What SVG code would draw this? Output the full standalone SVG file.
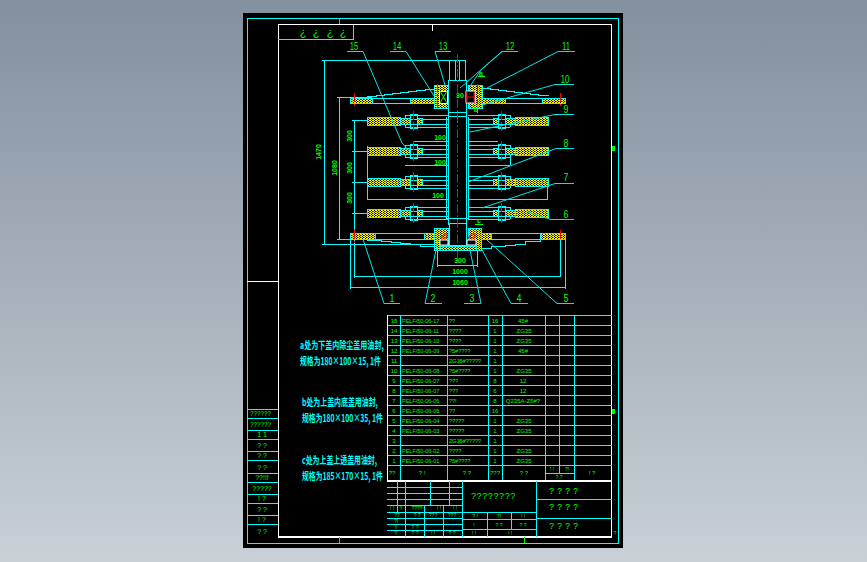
<svg xmlns="http://www.w3.org/2000/svg" width="867" height="562" viewBox="0 0 867 562">
<style>
.c{fill:none;stroke:#00ffff;stroke-width:1;shape-rendering:crispEdges}
.l{fill:none;stroke:#00e8e8;stroke-width:1}
.w{fill:none;stroke:#ffffff;stroke-width:1.2;shape-rendering:crispEdges}
.g{fill:none;stroke:#00ff00;stroke-width:1}
.r{fill:none;stroke:#ff0000;stroke-width:1;stroke-dasharray:9 2 2 2}
.h{fill:url(#hatch);stroke:#00ffff;stroke-width:1;shape-rendering:crispEdges}
text{font-family:"Liberation Sans",sans-serif;fill:#00ff00}
.n{font-size:11px;text-anchor:middle}
.t{font-size:7px}
.m{font-size:7px;text-anchor:middle}
.s{font-size:5px;text-anchor:middle}
.q{font-size:6px;text-anchor:middle}
.d{font-size:7px;text-anchor:middle;font-weight:bold}
.a{font-family:"Noto Sans CJK SC","Liberation Sans",sans-serif;font-size:10.5px;font-weight:bold;fill:#00ffff}
</style>
<defs>
<linearGradient id="bg" x1="0" y1="0" x2="0" y2="1"><stop offset="0" stop-color="#82909f"/><stop offset="1" stop-color="#c9d0d6"/></linearGradient>
<pattern id="hatch" width="3" height="2" patternUnits="userSpaceOnUse"><rect width="3" height="2" fill="#000"/><rect width="2" height="1" fill="#ffff00"/><rect x="1.500" y="1" width="1.500" height="1" fill="#ffff00"/></pattern>
<g id="arm">
<path class="c" d="M405 -6H448M405 -2H448M405 3H448M405 6H448M405 -6V6"/>
<rect class="c" x="410" y="-7" width="7" height="14" fill="#000"/>
<path class="r" d="M413.500 -10V10"/>
<path class="c" d="M468 -6H510M468 -2H510M468 3H510M468 6H510M510 -6V6"/>
<rect class="c" x="498" y="-7" width="7" height="14" fill="#000"/>
<path class="r" d="M501.500 -10V10"/>
</g>
</defs>
<rect width="867" height="562" fill="url(#bg)"/>
<rect x="243" y="13" width="380" height="535" fill="#000"/>
<g id="frame">
<rect class="c" x="247.500" y="18.500" width="371" height="525"/>
<rect class="w" x="278.500" y="24.500" width="333" height="512.500"/>
<path class="c" d="M278 39.500H353.500V24.500"/>
<path class="w" d="M247 281.500H278"/>
<path class="c" d="M247 409.500H278M247 418.500H278M247 430.500H278M247 439.500H278M247 451.500H278M247 460.500H278M247 473.500H278M247 482.500H278M247 494.500H278M247 503.500H278M247 515.500H278M247 524.500H278"/>
<path class="g" d="M339.500 18V24M339.500 537V543M524.500 537V543"/>
<path class="w" d="M432.500 25V31"/>
<path d="M612 146h3v5h-3zM612 409h3v5h-3z" fill="#00ff00"/>
<g font-size="11"><text x="303" y="36" text-anchor="middle">¿</text><text x="316" y="36" text-anchor="middle">¿</text><text x="330" y="36" text-anchor="middle">¿</text><text x="343" y="36" text-anchor="middle">¿</text></g>
<text x="250" y="416" class="t" transform="translate(250,416) scale(.9,1) translate(-250,-416)">??????</text>
<text x="250" y="427" class="t" transform="translate(250,427) scale(.9,1) translate(-250,-427)">??????</text>
<text x="262" y="437" class="m">1 1</text><text x="262" y="448" class="m">? ?</text><text x="262" y="458" class="m">? ?</text><text x="262" y="470" class="m">? ?</text>
<text x="262" y="480" class="m">??!!!</text>
<text x="262" y="491" class="m">?????</text>
<text x="262" y="501" class="m">! ?</text><text x="262" y="512" class="m">? ?</text><text x="262" y="522" class="m">! ?</text><text x="262" y="534" class="m">? ?</text>
</g>
<g id="notes">
<text class="a" transform="translate(300,349) scale(.67,1)">a处为下盖内除尘盖用油封,</text>
<text class="a" transform="translate(300,365) scale(.65,1)">规格为180×100×15, 1件</text>
<text class="a" transform="translate(302,406) scale(.66,1)">b处为上盖内底盖用油封,</text>
<text class="a" transform="translate(302,422) scale(.65,1)">规格为180×100×35, 1件</text>
<text class="a" transform="translate(302,464) scale(.66,1)">c处为上盖上透盖用油封,</text>
<text class="a" transform="translate(302,480) scale(.65,1)">规格为185×170×15, 1件</text>
</g>
<g id="drawing">
<path class="c" d="M322 60.500H449M324.500 60V245M322 244.500H440M337 97.500H372M339.500 97V240M337 239.500H372M352 120.500H367M352 151.500H367M352 182.500H367M352 213.500H367M354.500 120V278"/>
<path class="c" d="M367.500 117V125M367.500 146V199M367 199.500H448M413 141.500H449M405 165.500H449M468 141.500H498M468 165.500H510M510.500 155V165M468 199.500H548M547.500 178V199"/>
<path class="c" d="M449.500 60V80M465.500 60V80M455.500 60V80M459.500 60V80M449 60.500H465M448 80.500H466M448.500 80V117M466.500 80V117M448 112.500H467M448 116.500H467"/>
<path class="c" d="M446.500 117V218M448.500 117V225M466.500 117V225M468.500 117V218M446 218.500H469M448 223.500H467M449.500 223V245M466.500 223V245"/>
<path class="r" d="M457.500 54V262"/>
<use href="#arm" y="121"/><use href="#arm" y="151"/><use href="#arm" y="182"/><use href="#arm" y="213"/>
<path class="h" d="M367.500 117.500h33v8h-33zM400.500 118.500h10v6h-10zM417.500 118.500h5v6h-5zM493.500 118.500h5v6h-5zM505.500 118.500h10v6h-10zM515.500 117.500h33v8h-33z"/>
<path class="h" d="M367.500 147.500h33v8h-33zM400.500 148.500h10v6h-10zM417.500 148.500h5v6h-5zM493.500 148.500h5v6h-5zM505.500 148.500h10v6h-10zM515.500 147.500h33v8h-33z"/>
<path class="h" d="M367.500 178.500h33v8h-33zM400.500 179.500h10v6h-10zM417.500 179.500h5v6h-5zM493.500 179.500h5v6h-5zM505.500 179.500h10v6h-10zM515.500 178.500h33v8h-33z"/>
<path class="h" d="M367.500 209.500h33v8h-33zM400.500 210.500h10v6h-10zM417.500 210.500h5v6h-5zM493.500 210.500h5v6h-5zM505.500 210.500h10v6h-10zM515.500 209.500h33v8h-33z"/>
<path class="h" d="M350 98h22v5.500h-22z"/>
<path class="c" d="M372 98h38v5.500h-38z"/>
<path class="h" d="M410 98h28v5.500h-28z"/>
<path class="h" d="M434 85.500h14v23h-14z"/>
<path class="h" d="M468 85.500h14v23h-14z"/>
<path class="h" d="M481 98h24v5.500h-24z"/>
<path class="c" d="M505 98h37v5.500h-37z"/>
<path class="h" d="M542 98h23v5.500h-23z"/>
<path class="c" d="M367 97V96H376V95H384V94H392V93H400V92H408V91H416V90H425V89H434"/>
<path class="c" d="M482 88H490V89H498V90H506V91H514V92H522V93H530V94H538V95H548V96"/>
<rect x="439.500" y="91.500" width="8" height="12" fill="#000" stroke="#ffffff"/>
<path class="g" d="M440 103L443.500 97L440 91M447 103L443.500 97L447 91"/>
<rect x="466" y="91" width="9" height="12" fill="#000" stroke="#ffffff"/>
<path d="M467 91v12M474 91v12M466 97h9" stroke="#ff0000" fill="none"/>
<path class="r" d="M354.500 93V106M560.500 93V106M477.500 84V108M437.500 84V108"/>
<path class="h" d="M350 233.500h25v6h-25z"/>
<path class="c" d="M375 233.500h49v6h-49z"/>
<path class="h" d="M424 233.500h14v6h-14z"/>
<path class="h" d="M434 228.500h14v21.500h-14z"/>
<path class="h" d="M468 228.500h13v21.500h-13z"/>
<path class="h" d="M481 233.500h10v6h-10z"/>
<path class="c" d="M491 233.500h49v6h-49z"/>
<path class="h" d="M540 233.500h25v6h-25z"/>
<path class="c" d="M367 240H381V241H391V242H400V243H410V244H420V246H434"/>
<path class="c" d="M482 248H491V246H505V245H515V244H525V241H540V240"/>
<rect x="440" y="240" width="8" height="5" fill="#000" stroke="#ffffff"/>
<rect x="467" y="240" width="9" height="5" fill="#000" stroke="#ffffff"/>
<path d="M441 238h6v-4h-3zM468 238h7v-4h-4z" fill="none" stroke="#ff0000"/>
<path class="c" d="M440 245.500H476M440 250.500H476"/>
<path class="h" d="M440 246h36v4h-36z"/>
<path class="r" d="M354.500 230V244M560.500 230V244"/>
<path class="c" d="M437.500 248V267M477.500 250V267M437 265.500H478M354 276.500H560M350 287.500H565M350.500 235V289M565.500 235V289M560.500 240V277"/>
</g>
<g id="labels">
<text class="n" transform="translate(354,50) scale(.7,1)">15</text><text class="n" transform="translate(397,50) scale(.7,1)">14</text><text class="n" transform="translate(443,50) scale(.7,1)">13</text><text class="n" transform="translate(510,50) scale(.7,1)">12</text><text class="n" transform="translate(566,50) scale(.7,1)">11</text>
<text class="n" transform="translate(565,83) scale(.7,1)">10</text><text class="n" transform="translate(566,113) scale(.8,1)">9</text><text class="n" transform="translate(566,147) scale(.8,1)">8</text><text class="n" transform="translate(566,181) scale(.8,1)">7</text><text class="n" transform="translate(566,218) scale(.8,1)">6</text><text class="n" transform="translate(566,302) scale(.8,1)">5</text>
<text class="n" transform="translate(392,302) scale(.8,1)">1</text><text class="n" transform="translate(433,302) scale(.8,1)">2</text><text class="n" transform="translate(472,302) scale(.8,1)">3</text><text class="n" transform="translate(519,302) scale(.8,1)">4</text>
<text class="d" x="481" y="76">a</text><text class="d" x="476" y="112">b</text><text class="d" x="479" y="223">c</text>
<text class="d" x="460" y="98">30</text>
<text class="d" x="440" y="140">100</text><text class="d" x="440" y="165">100</text><text class="d" x="438" y="198">100</text>
<text class="d" x="460" y="263">300</text><text class="d" x="460" y="274">1000</text><text class="d" x="460" y="285">1060</text>
<text class="d" transform="translate(352,136) rotate(-90)">300</text>
<text class="d" transform="translate(352,168) rotate(-90)">300</text>
<text class="d" transform="translate(352,198) rotate(-90)">300</text>
<text class="d" transform="translate(337,168) rotate(-90)">1080</text>
<text class="d" transform="translate(321,152) rotate(-90)">1470</text>
</g>
<g id="connectors">
<path class="l" d="M347 51.500H363L402 143L410 152M390 51.500H406L434 96M435 51.500H451M435 51.500L445 85"/>
<path class="l" d="M518 51.500H502L460 88M502 51.500L481 70L470 86M575 51.500H558L487 88"/>
<path class="l" d="M574 84.500H555L482 105M574 114.500H555L470 132M574 148.500H556L468 182M574 183.500H555L482 208M574 219.500H551L528 212"/>
<path class="l" d="M400 303.500H384L363 239M442 303.500H425L438 240M464 303.500H481L470 250M528 303.500H511L481 248M574 303.500H557L487 240"/>
<path class="g" d="M478 76.500H485M477.500 104V113M475 224.500H483"/>
</g>
<g id="table">
<path class="c" d="M387 315.500H612M387 325.500H612M387 335.500H612M387 345.500H612M387 355.500H612M387 365.500H612M387 375.500H612M387 385.500H612M387 395.500H612M387 405.500H612M387 415.500H612M387 425.500H612M387 435.500H612M387 445.500H612M387 455.500H612M387 465.500H612"/>
<path class="c" d="M400.500 315V481M447.500 315V481M488.500 315V481M502.500 315V481M545.500 315V481M559.500 315V473M574.500 315V481M545 473.500H574"/>
<path class="w" d="M387.500 315V481M387 481H612"/>
<g class="rows" font-size="5.500">
<text class="q" x="394" y="323">15</text><text x="402" y="323">PELF/50-06-17</text><text x="449" y="323">??</text><text class="q" x="495" y="323">16</text><text class="q" x="523" y="323">45#</text>
<text class="q" x="394" y="333">14</text><text x="402" y="333">PELF/50-06-11</text><text x="449" y="333">????</text><text class="q" x="495" y="333">1</text><text class="q" x="524" y="333">ZG35</text>
<text class="q" x="394" y="343">13</text><text x="402" y="343">PELF/50-06-10</text><text x="449" y="343">????</text><text class="q" x="495" y="343">1</text><text class="q" x="524" y="343">ZG35</text>
<text class="q" x="394" y="353">12</text><text x="402" y="353">PELF/50-06-09</text><text x="449" y="353">?5#????</text><text class="q" x="495" y="353">1</text><text class="q" x="523" y="353">45#</text>
<text class="q" x="394" y="363">11</text><text x="449" y="363">ZG35#?????</text><text class="q" x="495" y="363">1</text>
<text class="q" x="394" y="373">10</text><text x="402" y="373">PELF/50-06-08</text><text x="449" y="373">?5#????</text><text class="q" x="495" y="373">1</text><text class="q" x="524" y="373">ZG35</text>
<text class="q" x="394" y="383">9</text><text x="402" y="383">PELF/50-06-07</text><text x="449" y="383">???</text><text class="q" x="495" y="383">8</text><text class="q" x="523" y="383">12</text>
<text class="q" x="394" y="393">8</text><text x="402" y="393">PELF/50-06-07</text><text x="449" y="393">???</text><text class="q" x="495" y="393">6</text><text class="q" x="523" y="393">12</text>
<text class="q" x="394" y="403">7</text><text x="402" y="403">PELF/50-06-06</text><text x="449" y="403">??!</text><text class="q" x="495" y="403">8</text><text class="q" x="523" y="403" font-size="5">Q235A-Z5#?</text>
<text class="q" x="394" y="413">6</text><text x="402" y="413">PELF/50-06-05</text><text x="449" y="413">??</text><text class="q" x="495" y="413">16</text>
<text class="q" x="394" y="423">5</text><text x="402" y="423">PELF/50-06-04</text><text x="449" y="423">?????</text><text class="q" x="495" y="423">1</text><text class="q" x="524" y="423">ZG35</text>
<text class="q" x="394" y="433">4</text><text x="402" y="433">PELF/50-06-03</text><text x="449" y="433">?????</text><text class="q" x="495" y="433">1</text><text class="q" x="524" y="433">ZG35</text>
<text class="q" x="394" y="443">3</text><text x="449" y="443">ZG35#?????</text><text class="q" x="495" y="443">1</text>
<text class="q" x="394" y="453">2</text><text x="402" y="453">PELF/50-06-02</text><text x="449" y="453">????</text><text class="q" x="495" y="453">1</text><text class="q" x="524" y="453">ZG35</text>
<text class="q" x="394" y="463">1</text><text x="402" y="463">PELF/50-06-01</text><text x="449" y="463">?5#????</text><text class="q" x="495" y="463">1</text><text class="q" x="524" y="463">ZG35</text>
<text class="q" x="392" y="475">??</text><text class="q" x="422" y="475">? !</text><text class="q" x="467" y="475">? ?</text><text class="q" x="495" y="475">???</text><text class="q" x="524" y="475">? ?</text><text class="s" x="552" y="471">! !</text><text class="s" x="567" y="471">?!</text><text class="s" x="559" y="479">? ?</text><text class="q" x="592" y="475">! ?</text>
</g>
</g>
<g id="titleblock">
<path class="c" d="M397.500 481V512M405.500 481V537M430.500 481V505M449.500 481V505M462.500 481V537M387 487.500H462M387 493.500H462M387 499.500H462M387 505.500H462M387 512.500H536M387 518.500H462M387 524.500H462M387 530.500H462M424.500 505V537M443.500 505V537M462 519.500H536M462 529.500H536M487.500 512V537M511.500 512V529M536.500 481V537M536 499.500H612M536 518.500H612"/>
<text x="471" y="499" font-size="9" letter-spacing=".6">????????</text>
<text x="565" y="494" font-size="9" text-anchor="middle" letter-spacing="3">????</text>
<text x="565" y="510" font-size="9" text-anchor="middle" letter-spacing="3">????</text>
<text x="565" y="529" font-size="9" text-anchor="middle" letter-spacing="3">????</text>
<text class="s" x="392" y="510">! !</text><text class="s" x="401" y="510">!!</text><text class="s" x="417" y="510">????</text><text class="s" x="439" y="510">! !</text><text class="s" x="455" y="510">! !</text>
<text class="s" x="397" y="517">??</text><text class="s" x="417" y="517">? ?</text><text class="s" x="433" y="517">???</text><text class="s" x="452" y="517">???</text>
<text class="s" x="475" y="518">? !</text><text class="s" x="499" y="518">?!</text><text class="s" x="523" y="518">! !</text><text class="s" x="474" y="527">!</text><text class="s" x="499" y="527">? ?</text><text class="s" x="523" y="527">? ?</text>
<text class="s" x="396" y="523">?!</text><text class="s" x="396" y="529">!!</text><text class="s" x="415" y="529">? ?</text><text class="s" x="396" y="535">!!</text><text class="s" x="415" y="535">? ?</text><text class="s" x="433" y="535">! !</text><text class="s" x="452" y="535">? ?</text>
<text class="s" x="474" y="535">! !</text><text class="s" x="510" y="535">! !</text><text class="s" x="615" y="535">?</text>
</g>
</svg>
